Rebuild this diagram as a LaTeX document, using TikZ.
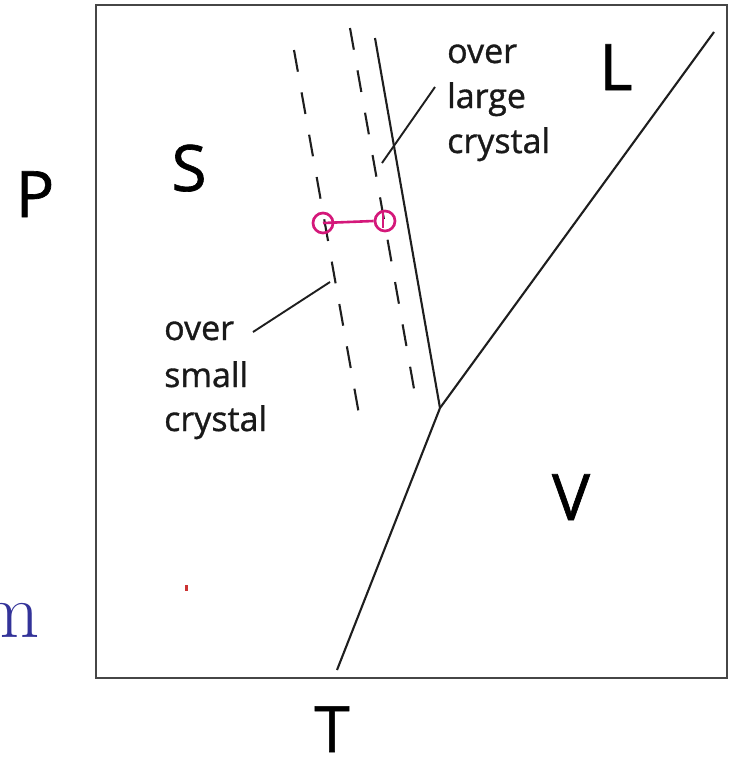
\documentclass[tikz,border=0pt]{standalone}
\usepackage{fontspec}
\newfontfamily\osans[FakeBold=1]{Open Sans}
\definecolor{lineg}{RGB}{30,30,30}
\definecolor{boxg}{RGB}{70,70,70}
\definecolor{tie}{RGB}{212,24,122}
\definecolor{slideblue}{RGB}{51,51,153}
\tikzset{
  phase/.style={draw=lineg, line width=2.1pt},
  meta/.style={draw=lineg, line width=2.1pt, dash pattern=on 22pt off 21pt},
  leader/.style={draw=lineg, line width=1.9pt},
  biglabel/.style={font=\osans\fontsize{64}{70}\selectfont, inner sep=0pt, anchor=base},
  note/.style={font=\osans\fontsize{34}{45}\selectfont, inner sep=0pt, anchor=base west, text=black!90},
  tiecircle/.style={draw=tie, line width=2.7pt, circle, minimum size=20pt, inner sep=0pt},
}
\begin{document}
\begin{tikzpicture}[x=1pt,y=-1pt]
\useasboundingbox (0,0) rectangle (736,758);
% frame
\draw[boxg, line width=2.8pt] (96,5) rectangle (727,678);
% coordinates
\coordinate (tp) at (440,408);
\coordinate (lvEnd) at (714,32);
\coordinate (tvEnd) at (337,670);
\coordinate (slTop) at (375,38);
\coordinate (dOneTop) at (294,50);
\coordinate (dOneBot) at (360,420);
\coordinate (dTwoTop) at (350,28);
\coordinate (dTwoBot) at (416,400);
% phase boundaries
\draw[phase] (tvEnd) -- (tp) -- (lvEnd);
\draw[phase] (tp) -- (slTop);
% metastable (dashed) boundaries
\draw[meta] (dOneTop) -- (dOneBot);
\draw[meta] (dTwoTop) -- (dTwoBot);
% labels
\node[biglabel] (P) at (35,217) {P};
\node[biglabel] (T) at (332,752) {T};
\node[biglabel] (S) at (189,191) {S};
\node[biglabel] (L) at (616,90) {L};
\node[biglabel] (V) at (571,520) {V};
% notes
\node[note] (ovA) at (447,63) {over};
\node[note] (lgA) at (447,108) {large};
\node[note] (crA) at (447,153) {crystal};
\node[note] (ovB) at (164,340) {over};
\node[note] (smB) at (164,387) {small};
\node[note] (crB) at (164,431) {crystal};
% leaders
\coordinate (ldAa) at (435,87);
\coordinate (ldAb) at (382,163);
\coordinate (ldBa) at (330,282);
\coordinate (ldBb) at (253,332);
\draw[leader] (ldAa) -- (ldAb);
\draw[leader] (ldBa) -- (ldBb);
% tie line between the two crystals
\node[tiecircle] (cSmall) at (323,223) {};
\node[tiecircle] (cLarge) at (385,221) {};
\draw[tie, line width=2.6pt] (cSmall.center) -- (cLarge.west);
\draw[tie, line width=1.8pt] (cLarge.north) ++(-2,2) -- ++(0,16);
% stray mark
\fill[red!60!gray] (185,585) rectangle (188,591);
% cut-off slide text
\node[font=\fontsize{78}{80}\selectfont, text=slideblue, inner sep=0pt, anchor=base east] (mfrag) at (40,637) {m};
\end{tikzpicture}
\end{document}
